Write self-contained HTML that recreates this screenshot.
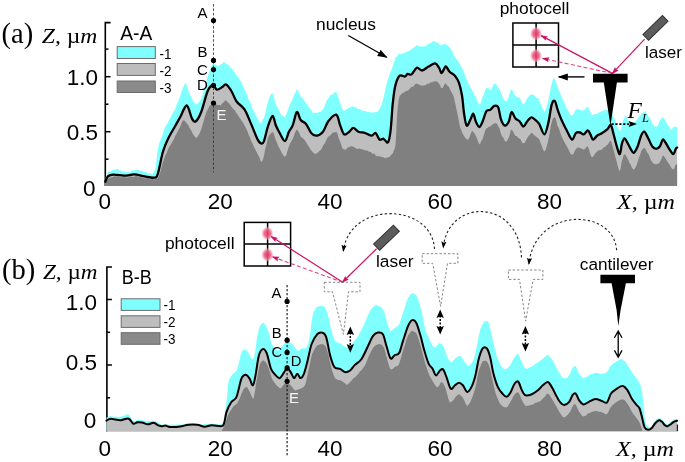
<!DOCTYPE html>
<html lang="en"><head><meta charset="utf-8"><title>AFM cell profiles</title>
<style>html,body{margin:0;padding:0;background:#fff}svg{display:block;will-change:transform}.s{font-family:"Liberation Sans",sans-serif;fill:#000}.t{font-family:"Liberation Serif",serif;fill:#000}.i{font-style:italic}</style></head><body>
<svg width="685" height="462" viewBox="0 0 685 462">
<defs><marker id="ak" markerWidth="10" markerHeight="8" refX="9" refY="4" orient="auto" markerUnits="userSpaceOnUse"><path d="M0,0.5 L10,4 L0,7.5 Z" fill="#000"/></marker><marker id="ar" markerWidth="8" markerHeight="6" refX="6.5" refY="3" orient="auto" markerUnits="userSpaceOnUse"><path d="M0,0.5 L7.5,3 L0,5.5 L1.2,3 Z" fill="#cc1166"/></marker><marker id="as" markerWidth="7" markerHeight="6" refX="6" refY="3" orient="auto" markerUnits="userSpaceOnUse"><path d="M0,0.4 L7,3 L0,5.6 L1.3,3 Z" fill="#000"/></marker><marker id="as2" markerWidth="7" markerHeight="7" refX="1" refY="3.5" orient="auto" markerUnits="userSpaceOnUse"><path d="M7,0.5 L0,3.5 L7,6.5 Z" fill="#000"/></marker><radialGradient id="rb"><stop offset="0" stop-color="#e63a68" stop-opacity="0.95"/><stop offset="0.5" stop-color="#ec5a80" stop-opacity="0.9"/><stop offset="0.8" stop-color="#f39ab2" stop-opacity="0.6"/><stop offset="1" stop-color="#fbd0dc" stop-opacity="0"/></radialGradient></defs>
<rect width="685" height="462" fill="#fff"/>
<path d="M110.6,22.6 H105.3 V186" fill="none" stroke="#000" stroke-width="1.6"/>
<path d="M105.3,49.1 h3.2" stroke="#000" stroke-width="1.5"/>
<path d="M105.3,76.7 h5.2" stroke="#000" stroke-width="1.5"/>
<path d="M105.3,104.2 h3.2" stroke="#000" stroke-width="1.5"/>
<path d="M105.3,131.7 h5.2" stroke="#000" stroke-width="1.5"/>
<path d="M105.3,159.2 h3.2" stroke="#000" stroke-width="1.5"/>
<path d="M112,267 H106.9 V431.5" fill="none" stroke="#000" stroke-width="1.6"/>
<path d="M106.9,299.5 h5" stroke="#000" stroke-width="1.5"/>
<path d="M106.9,332.3 h3.2" stroke="#000" stroke-width="1.5"/>
<path d="M106.9,365 h5" stroke="#000" stroke-width="1.5"/>
<path d="M106.9,397.8 h3.2" stroke="#000" stroke-width="1.5"/>
<path d="M105.3,179.0 L105.8,177.3 L106.7,174.7 L107.9,172.6 L109.0,171.3 L110.0,171.7 L111.5,170.9 L113.0,169.7 L114.4,169.8 L115.8,169.4 L117.4,168.8 L119.0,170.3 L120.3,170.5 L121.6,170.5 L122.9,171.9 L124.0,171.2 L125.2,171.5 L126.3,171.9 L127.4,172.3 L128.6,171.8 L129.7,172.2 L131.0,171.4 L132.2,170.1 L133.5,170.7 L134.6,170.6 L135.7,169.7 L136.8,170.3 L138.4,169.4 L139.9,171.1 L141.1,170.5 L142.2,170.8 L143.3,171.8 L144.7,171.9 L146.0,172.2 L147.9,173.4 L149.7,173.2 L151.2,173.8 L152.6,174.2 L154.0,171.8 L155.2,169.3 L156.0,164.6 L156.9,156.0 L157.8,148.9 L159.3,143.0 L160.3,140.3 L161.3,138.0 L163.0,133.5 L164.6,128.3 L166.5,124.8 L168.3,122.0 L169.3,119.7 L170.4,117.5 L171.6,115.3 L172.8,113.0 L173.9,110.9 L174.9,110.0 L176.6,104.8 L178.5,100.5 L180.1,96.5 L181.8,91.3 L183.7,86.0 L185.4,82.8 L187.1,86.3 L188.9,92.5 L190.6,95.7 L192.3,99.7 L194.2,102.3 L195.9,104.7 L197.6,103.5 L198.6,102.6 L199.6,101.4 L201.2,98.8 L202.5,95.3 L203.9,89.3 L205.1,86.2 L206.3,81.4 L207.8,76.0 L209.0,73.2 L210.2,70.0 L211.7,65.4 L213.0,63.6 L214.5,64.2 L216.3,65.0 L218.0,66.5 L219.8,65.3 L220.8,64.2 L221.9,63.7 L223.7,61.9 L225.5,63.0 L226.4,64.3 L227.4,64.1 L229.0,65.6 L230.4,68.0 L231.8,68.6 L233.0,70.2 L234.1,72.1 L235.3,72.9 L236.6,75.8 L237.6,76.9 L238.6,77.7 L239.8,80.4 L241.1,81.6 L242.1,83.6 L243.2,86.5 L244.9,89.4 L246.8,94.9 L248.5,99.3 L249.5,101.6 L250.5,102.8 L251.8,106.8 L253.0,109.6 L254.0,111.2 L255.0,113.7 L256.8,117.1 L258.7,120.7 L260.3,123.3 L261.5,122.5 L262.8,119.6 L264.0,117.9 L265.6,111.8 L266.6,107.2 L267.6,103.1 L269.2,98.0 L270.4,95.0 L271.6,93.6 L272.6,93.0 L273.6,96.3 L274.7,100.6 L275.8,103.7 L277.0,106.7 L278.4,109.2 L279.7,111.7 L281.3,115.0 L282.4,115.3 L283.4,116.2 L285.0,116.9 L286.3,114.0 L287.7,110.4 L288.9,107.0 L290.1,103.8 L291.6,101.2 L292.8,98.5 L294.1,94.8 L295.5,92.4 L296.8,89.3 L298.0,90.3 L299.4,93.9 L300.7,96.4 L302.3,97.9 L303.3,99.1 L304.3,100.5 L306.0,103.2 L307.7,105.5 L309.5,108.1 L311.2,110.1 L312.8,112.9 L314.7,112.8 L316.5,112.8 L317.5,113.3 L318.5,112.0 L319.8,112.0 L321.0,111.4 L322.0,109.7 L323.0,109.7 L324.7,105.7 L326.5,101.1 L328.3,98.2 L329.5,97.1 L330.8,94.3 L332.3,94.7 L333.8,93.3 L335.0,91.9 L336.2,92.0 L337.7,94.7 L339.0,99.3 L340.1,102.4 L341.3,106.3 L342.7,109.4 L344.1,110.7 L345.1,110.3 L346.1,109.5 L347.4,109.0 L348.6,107.7 L349.6,107.7 L350.6,107.2 L352.0,106.0 L353.3,106.9 L354.6,107.0 L356.1,107.5 L357.9,108.9 L359.8,108.9 L361.0,109.9 L362.2,110.3 L363.7,111.1 L365.3,111.0 L366.5,111.5 L367.7,111.7 L369.5,112.0 L371.4,112.7 L373.0,112.5 L374.7,112.3 L376.6,112.0 L378.2,111.2 L379.5,108.9 L381.0,105.7 L382.2,102.4 L383.4,98.2 L384.9,91.6 L386.1,86.2 L387.4,80.9 L388.9,76.8 L390.0,73.1 L390.6,71.6 L391.2,70.8 L391.8,69.0 L392.9,65.7 L394.5,60.8 L395.8,57.0 L397.0,56.4 L398.3,54.2 L399.7,54.1 L400.7,54.1 L401.7,53.9 L402.9,53.2 L404.2,53.3 L405.3,52.5 L406.3,51.8 L408.0,51.6 L409.9,50.3 L411.5,49.6 L413.1,47.9 L415.0,46.5 L416.8,45.3 L417.8,45.5 L418.8,46.0 L420.0,46.2 L421.2,47.1 L422.2,46.1 L423.3,46.5 L424.4,46.6 L425.4,46.2 L426.7,45.6 L427.9,44.6 L428.9,42.7 L429.9,43.7 L431.7,42.3 L433.6,41.0 L435.2,42.1 L436.9,42.3 L438.7,43.8 L440.4,45.4 L442.1,44.5 L444.0,44.3 L445.7,44.0 L447.4,45.2 L449.2,47.1 L450.9,48.9 L452.6,51.8 L454.5,56.3 L456.2,58.9 L457.9,60.4 L459.7,63.7 L461.4,66.9 L463.1,70.1 L465.0,75.1 L466.7,80.1 L468.4,83.2 L469.4,85.0 L470.4,87.2 L472.0,89.7 L473.3,93.0 L474.7,95.2 L475.9,97.2 L477.0,100.5 L478.2,103.0 L479.3,104.4 L480.3,104.0 L481.4,100.2 L482.5,97.3 L483.7,94.8 L485.1,90.2 L486.4,88.1 L487.6,88.0 L489.1,88.7 L490.3,90.3 L491.5,88.9 L493.0,85.6 L494.3,83.8 L495.9,84.3 L496.9,85.0 L497.9,86.9 L499.5,89.5 L500.8,92.1 L502.3,96.3 L503.5,99.1 L504.7,100.5 L506.2,101.6 L507.4,100.3 L508.7,97.3 L510.1,91.7 L511.4,88.9 L512.7,90.8 L514.2,94.3 L515.5,96.2 L516.8,96.8 L518.2,97.7 L519.5,97.6 L520.7,99.2 L522.2,103.4 L523.4,104.6 L524.6,103.5 L526.1,100.6 L527.3,98.3 L528.6,96.6 L530.0,95.2 L531.3,93.9 L532.5,94.7 L534.0,94.9 L535.2,96.5 L536.4,98.0 L537.9,97.9 L539.2,100.1 L540.8,104.4 L541.8,106.2 L542.8,109.2 L544.4,112.1 L545.8,108.9 L547.2,104.5 L548.4,99.5 L549.5,94.2 L550.8,87.3 L551.8,83.5 L552.7,80.1 L553.6,78.0 L554.4,78.5 L555.3,79.9 L556.4,83.3 L557.5,86.7 L558.7,89.7 L560.1,92.8 L561.5,96.6 L563.1,100.3 L565.0,104.4 L566.7,108.6 L568.4,110.8 L569.4,112.6 L570.4,115.0 L572.0,115.4 L573.3,114.3 L574.7,111.7 L575.9,109.5 L577.2,109.4 L578.6,108.9 L579.9,109.7 L581.1,110.4 L582.6,110.2 L583.8,110.6 L585.1,109.2 L586.5,107.2 L587.8,106.7 L589.0,108.7 L590.4,112.4 L591.7,115.2 L593.3,115.0 L594.3,113.7 L595.3,114.2 L597.0,114.0 L598.7,112.5 L600.5,112.0 L602.2,111.1 L603.9,110.5 L604.9,110.2 L605.9,109.5 L607.5,109.8 L608.8,110.7 L610.2,110.3 L611.4,112.3 L612.7,115.0 L614.1,118.1 L615.4,120.7 L616.8,125.5 L618.4,129.2 L619.8,131.6 L621.0,129.5 L622.2,123.8 L623.2,119.9 L624.1,118.4 L625.1,115.8 L625.9,115.9 L626.7,117.1 L627.5,119.0 L628.5,121.0 L630.0,122.2 L631.0,122.2 L632.0,123.4 L633.7,122.0 L635.0,121.8 L636.5,120.5 L637.7,118.7 L638.9,116.8 L640.4,115.4 L641.6,113.1 L642.9,112.9 L644.3,111.8 L645.6,111.2 L646.8,113.7 L648.3,116.0 L649.5,117.2 L650.8,119.8 L652.2,123.4 L653.5,124.8 L654.8,126.8 L656.2,126.2 L657.4,126.8 L658.3,124.6 L659.2,121.5 L660.0,120.4 L660.8,119.3 L661.8,118.0 L662.7,117.2 L663.9,118.1 L665.3,120.2 L666.6,122.7 L667.8,124.5 L669.3,127.5 L670.5,129.5 L671.8,129.4 L673.3,127.0 L674.5,127.0 L675.5,127.1 L676.5,126.3 L677.1,126.5 L677.1,184.9 L105.3,184.9 Z" fill="#80ffff"/>
<path d="M105.3,181.7 L105.9,180.2 L106.8,178.0 L107.9,176.4 L109.2,175.5 L110.9,174.9 L112.0,174.8 L113.1,174.6 L114.4,174.7 L115.7,174.7 L117.0,174.8 L118.3,174.9 L119.6,175.1 L120.9,175.2 L122.2,175.3 L123.5,175.4 L124.9,175.5 L126.3,175.6 L127.7,175.4 L129.1,175.2 L130.4,174.9 L131.7,174.6 L132.9,174.4 L134.2,174.3 L135.8,174.5 L137.4,174.8 L138.7,175.1 L140.0,175.4 L141.4,175.7 L142.5,175.9 L143.6,176.2 L144.7,176.4 L146.3,176.7 L147.9,177.0 L149.0,177.2 L150.2,177.4 L151.3,177.6 L152.6,177.7 L153.9,177.7 L155.4,177.3 L156.6,176.3 L157.8,173.8 L159.4,167.5 L161.3,158.6 L163.0,151.5 L164.6,146.7 L166.5,142.2 L168.3,138.3 L169.3,136.3 L170.4,134.4 L171.6,132.2 L172.8,130.1 L173.9,128.3 L174.9,126.5 L176.6,123.5 L178.4,120.3 L180.1,117.3 L181.1,115.1 L182.2,113.0 L183.4,110.4 L184.6,107.9 L185.7,106.7 L186.7,105.5 L188.5,108.5 L190.4,114.3 L192.0,118.6 L193.3,120.4 L194.6,121.4 L195.9,121.2 L197.5,119.3 L199.4,116.0 L201.2,112.0 L202.2,108.8 L203.2,105.6 L204.4,101.3 L205.7,97.1 L206.7,94.1 L207.7,91.0 L209.5,87.9 L211.4,86.0 L213.0,85.2 L214.3,86.2 L215.6,88.4 L216.9,89.7 L218.5,89.3 L219.6,88.7 L220.6,88.1 L222.2,87.1 L223.5,86.0 L224.8,84.8 L226.1,84.5 L227.7,85.9 L228.7,87.2 L229.7,88.4 L231.4,91.0 L233.0,94.2 L234.8,98.2 L236.6,101.5 L237.8,102.7 L239.0,104.0 L240.5,105.3 L242.0,106.6 L243.2,108.0 L244.5,109.4 L245.6,111.5 L246.7,113.6 L247.9,116.3 L249.0,119.0 L250.1,121.5 L251.1,123.9 L252.2,126.5 L253.3,129.2 L254.5,132.2 L255.8,135.3 L257.7,139.6 L259.1,141.8 L260.5,143.1 L261.6,143.6 L262.4,143.5 L263.2,142.7 L264.0,141.0 L265.1,137.0 L266.6,131.2 L267.9,126.5 L269.4,122.3 L271.2,118.1 L272.6,116.0 L273.7,117.8 L274.8,121.8 L275.8,125.2 L277.0,127.8 L278.4,130.5 L279.7,133.0 L281.3,136.0 L282.4,137.8 L283.4,139.5 L285.0,141.0 L286.3,139.0 L287.7,135.0 L288.9,131.7 L290.1,129.7 L291.6,127.6 L292.8,125.2 L294.1,120.8 L295.5,115.1 L296.8,112.0 L298.0,113.4 L299.4,117.1 L300.7,120.0 L302.3,121.3 L303.3,121.9 L304.3,122.5 L306.0,123.9 L307.7,126.7 L309.5,130.3 L311.2,133.0 L312.8,134.4 L314.7,135.4 L316.5,135.7 L317.5,135.4 L318.5,135.0 L319.8,134.3 L321.0,133.6 L322.0,132.6 L323.0,131.7 L324.7,128.6 L326.5,124.5 L328.3,121.2 L329.5,119.8 L330.8,118.4 L332.3,117.0 L333.8,115.6 L335.0,115.2 L336.2,114.7 L337.7,117.1 L339.0,121.4 L340.1,125.2 L341.3,128.6 L342.8,132.2 L344.1,134.4 L345.7,134.3 L346.7,133.6 L347.7,133.0 L349.3,131.7 L350.6,130.3 L352.0,128.6 L353.3,127.8 L354.8,128.7 L356.7,130.4 L358.5,131.7 L359.5,132.0 L360.5,132.2 L361.7,132.4 L363.0,132.6 L364.0,132.8 L365.1,133.0 L366.2,133.5 L367.3,133.9 L368.5,134.5 L369.8,135.1 L371.7,135.7 L373.1,134.9 L374.4,133.5 L375.6,133.0 L376.8,134.8 L378.3,137.7 L379.5,139.6 L380.8,139.7 L382.2,139.0 L383.5,138.8 L385.0,140.1 L386.7,142.0 L388.0,142.3 L389.0,139.8 L389.9,135.5 L390.6,130.4 L391.3,122.7 L392.0,112.5 L392.7,104.2 L393.4,97.6 L394.4,90.9 L395.3,85.8 L396.6,81.8 L398.2,78.0 L399.7,75.7 L401.4,75.4 L402.4,75.8 L403.4,76.1 L405.0,76.5 L405.9,75.8 L406.8,74.6 L407.6,73.9 L408.7,74.1 L410.1,74.6 L411.5,74.4 L413.1,72.4 L414.1,71.0 L415.1,69.6 L416.8,67.8 L418.4,68.3 L420.3,69.8 L422.0,70.5 L423.0,70.0 L424.0,69.6 L425.2,68.8 L426.5,67.9 L427.5,67.2 L428.6,66.5 L429.7,65.9 L430.8,65.2 L432.0,64.6 L433.3,63.9 L435.2,63.4 L436.6,64.3 L438.0,66.1 L439.1,67.8 L440.0,69.8 L440.8,72.1 L441.7,73.1 L442.9,71.4 L444.4,68.2 L445.7,66.5 L446.9,67.5 L448.3,69.8 L449.6,71.8 L451.2,73.0 L452.2,73.7 L453.3,74.3 L454.9,75.7 L456.2,77.4 L457.6,79.7 L458.8,82.3 L459.9,85.9 L461.1,90.7 L462.0,95.4 L462.7,101.1 L463.4,108.2 L464.1,113.8 L464.9,118.5 L465.8,123.1 L466.7,125.6 L467.9,124.6 L469.4,121.6 L470.6,119.1 L471.5,116.9 L472.5,114.7 L473.3,113.8 L474.1,115.6 L475.0,118.9 L475.9,121.7 L476.9,123.9 L478.2,126.0 L479.3,127.0 L480.3,126.1 L481.4,124.0 L482.5,121.7 L483.7,118.4 L485.1,114.2 L486.4,111.2 L487.6,110.3 L489.1,110.2 L490.3,109.9 L491.6,108.6 L493.0,106.9 L494.3,105.9 L495.6,105.7 L497.0,106.0 L498.2,107.2 L499.1,110.5 L500.0,115.3 L500.9,119.1 L502.1,121.8 L503.5,124.3 L504.8,125.6 L506.1,125.0 L507.7,123.2 L508.9,121.2 L509.8,118.1 L510.7,114.1 L511.6,112.0 L512.8,113.3 L514.2,116.3 L515.5,118.6 L516.8,119.6 L518.2,120.3 L519.5,121.2 L520.7,123.0 L522.2,125.4 L523.4,126.5 L524.6,125.4 L526.1,123.1 L527.3,121.2 L528.6,119.7 L530.0,118.1 L531.3,117.3 L532.5,117.7 L534.0,118.8 L535.2,119.9 L536.4,120.9 L537.9,122.2 L539.2,123.9 L540.8,127.5 L541.8,129.9 L542.8,132.2 L544.4,134.4 L545.8,132.1 L547.2,127.3 L548.4,122.5 L549.5,116.6 L550.8,109.3 L551.8,104.2 L552.8,101.9 L554.0,100.9 L554.9,101.0 L555.7,102.9 L556.6,106.3 L557.5,109.4 L558.7,112.6 L560.1,116.5 L561.5,119.9 L563.1,123.3 L565.0,127.1 L566.7,130.4 L568.4,133.9 L569.4,135.8 L570.4,137.6 L572.0,139.6 L573.3,138.3 L574.7,135.2 L575.9,133.0 L577.2,132.4 L578.6,132.3 L579.9,132.5 L581.1,133.1 L582.6,134.1 L583.8,134.4 L585.1,133.2 L586.6,131.4 L587.8,130.4 L588.7,131.2 L589.6,132.8 L590.4,134.4 L591.2,136.3 L592.1,138.4 L593.0,139.6 L594.2,138.9 L595.6,137.1 L597.0,135.7 L598.6,134.8 L600.5,133.9 L602.2,133.0 L603.9,131.8 L604.9,131.1 L605.9,130.4 L607.5,129.1 L608.7,127.4 L609.9,125.6 L610.9,125.2 L611.9,127.7 L613.0,131.9 L614.0,135.7 L614.9,139.1 L615.8,143.0 L616.7,146.2 L617.7,149.4 L618.9,152.8 L619.8,154.1 L620.5,151.7 L621.2,147.2 L621.9,143.6 L622.7,141.3 L623.7,139.3 L624.5,138.3 L625.3,138.9 L626.3,140.6 L627.2,142.3 L628.3,144.3 L629.5,146.8 L630.6,148.8 L631.6,150.5 L632.7,152.2 L633.7,152.8 L634.9,151.4 L636.4,148.8 L637.7,146.2 L638.8,142.9 L640.0,138.8 L641.1,135.7 L642.1,133.7 L643.2,132.2 L644.3,131.7 L645.5,133.1 L646.9,135.8 L648.2,138.3 L649.4,140.9 L650.9,144.0 L652.1,146.2 L653.4,147.5 L654.8,148.4 L656.1,148.8 L657.4,148.4 L658.8,147.4 L660.0,146.2 L660.9,144.1 L661.9,141.3 L662.7,139.6 L663.5,139.8 L664.4,140.9 L665.3,142.3 L666.5,144.2 L667.9,146.7 L669.2,148.8 L670.5,150.9 L672.0,153.1 L673.2,154.1 L674.1,152.9 L675.1,150.6 L675.8,148.8 L676.3,148.1 L676.8,147.7 L677.1,147.5 L677.1,185.9 L105.3,185.9 Z" fill="#bebebe"/>
<path d="M105.3,183.0 L106.2,181.6 L107.7,178.9 L109.2,178.3 L111.0,177.2 L112.2,177.0 L113.4,176.9 L114.6,176.1 L115.8,176.6 L117.4,176.2 L119.0,176.5 L120.3,177.1 L121.6,177.5 L122.9,176.9 L124.0,176.8 L125.2,177.4 L126.3,177.6 L127.8,177.4 L129.3,177.1 L130.4,176.4 L131.4,176.4 L132.5,177.0 L134.0,176.7 L135.5,176.0 L136.6,176.3 L137.7,176.0 L138.8,177.5 L140.1,176.7 L141.3,177.6 L142.6,177.7 L143.7,178.3 L144.9,178.3 L146.0,178.5 L147.2,178.1 L148.4,178.3 L149.6,179.2 L150.9,179.4 L152.2,178.5 L153.6,179.6 L155.0,178.8 L156.5,178.7 L158.0,178.3 L159.0,175.4 L159.9,173.2 L160.8,170.3 L161.9,165.8 L163.0,161.8 L164.5,157.8 L165.5,155.1 L166.5,153.2 L168.3,148.7 L169.3,146.7 L170.4,145.2 L171.6,143.0 L172.8,140.9 L173.9,139.2 L174.9,136.6 L176.7,133.4 L178.6,129.8 L180.1,127.1 L181.4,123.4 L182.7,120.6 L184.1,120.3 L185.1,121.3 L186.1,122.5 L187.3,124.0 L188.5,125.5 L189.6,128.0 L190.6,129.3 L192.4,133.0 L194.2,136.1 L195.9,137.9 L197.6,136.8 L199.5,133.6 L201.2,129.4 L202.8,123.9 L204.7,117.3 L206.4,112.2 L207.4,110.1 L208.4,108.3 L209.6,105.8 L210.9,104.9 L211.9,104.1 L213.0,102.8 L214.1,103.0 L215.1,103.2 L216.3,104.4 L217.5,104.9 L218.6,105.0 L219.6,104.9 L220.7,105.4 L221.7,103.7 L222.9,102.8 L224.1,101.9 L225.1,100.1 L226.1,100.7 L227.9,102.3 L229.8,104.3 L231.4,106.4 L233.0,108.8 L234.8,110.2 L236.6,113.3 L237.8,114.7 L239.0,117.0 L240.4,118.8 L241.9,121.2 L243.2,122.9 L244.5,125.5 L245.8,127.8 L247.1,130.5 L248.6,134.6 L250.0,137.6 L251.2,141.2 L252.4,143.2 L254.3,147.4 L256.2,151.1 L257.7,154.5 L259.1,156.6 L260.5,160.6 L261.6,162.0 L262.4,160.7 L263.2,158.8 L264.0,155.7 L265.1,149.5 L266.6,144.1 L267.9,138.6 L269.4,135.1 L271.2,133.0 L272.6,132.0 L273.7,133.5 L274.8,136.9 L275.8,140.1 L277.0,142.8 L278.4,146.5 L279.7,148.7 L281.3,151.7 L282.4,154.1 L283.4,155.2 L285.0,157.0 L286.3,155.1 L287.7,150.1 L288.9,146.5 L290.1,143.5 L291.6,140.8 L292.8,138.7 L294.1,135.2 L295.5,131.4 L296.8,129.6 L298.0,130.7 L299.4,133.3 L300.7,136.4 L302.3,138.1 L303.3,138.5 L304.3,139.7 L306.0,142.1 L307.7,144.9 L309.5,147.8 L311.2,150.3 L312.8,152.2 L314.7,153.8 L316.5,153.8 L317.5,152.8 L318.5,152.3 L319.8,150.6 L321.0,149.7 L322.0,147.9 L323.0,145.8 L324.7,143.4 L326.5,139.5 L328.3,136.4 L329.5,136.3 L330.8,134.8 L332.3,133.1 L333.8,132.3 L335.0,132.5 L336.2,131.4 L337.7,134.2 L339.0,139.0 L340.1,141.6 L341.3,145.2 L342.7,148.7 L344.1,149.5 L346.0,149.7 L347.2,147.7 L348.4,147.5 L349.5,146.9 L350.6,146.3 L351.8,146.3 L353.1,146.7 L354.5,147.3 L356.0,148.4 L357.3,148.9 L358.5,148.8 L359.6,148.6 L360.7,149.2 L361.9,149.1 L363.0,149.5 L364.1,150.4 L365.1,149.8 L366.1,150.9 L367.2,150.2 L368.3,151.3 L369.5,152.0 L370.6,151.7 L371.7,153.1 L372.9,154.1 L374.1,153.3 L375.5,155.2 L376.9,156.3 L378.2,156.3 L379.5,156.3 L380.9,156.7 L382.3,157.0 L383.9,157.6 L385.5,158.6 L386.7,157.3 L388.0,157.7 L389.8,156.6 L391.4,154.8 L392.7,153.5 L393.7,150.8 L394.6,148.7 L395.3,146.6 L395.8,140.9 L396.2,132.4 L396.6,124.8 L397.0,117.7 L397.4,111.2 L397.9,105.7 L398.6,100.3 L399.4,96.7 L400.5,94.9 L402.2,93.2 L403.3,92.9 L404.4,91.9 L406.3,91.1 L408.0,90.5 L409.9,88.5 L411.5,86.8 L413.2,86.7 L415.1,84.2 L416.8,83.4 L418.4,84.3 L420.3,85.3 L422.0,85.6 L423.0,85.7 L424.0,85.2 L425.2,85.2 L426.5,84.5 L427.5,83.5 L428.6,83.8 L429.7,83.3 L430.8,82.0 L432.0,82.4 L433.3,81.4 L435.2,81.4 L436.6,81.0 L438.0,82.5 L439.1,83.8 L440.0,85.0 L440.8,87.6 L441.7,88.2 L442.9,87.8 L444.4,84.6 L445.7,82.9 L446.9,85.3 L448.4,86.2 L449.6,88.4 L450.9,91.0 L452.3,93.4 L453.6,96.2 L454.9,101.7 L456.3,108.6 L457.5,113.9 L458.4,118.6 L459.2,122.9 L460.1,127.5 L461.3,129.9 L462.8,133.9 L464.1,136.0 L465.3,137.9 L466.8,139.3 L468.0,139.8 L469.3,137.5 L470.7,133.7 L472.0,130.7 L473.3,131.9 L474.7,133.8 L475.9,136.2 L477.0,138.6 L478.2,141.7 L479.3,144.5 L480.3,143.6 L481.4,140.7 L482.5,139.2 L483.7,135.5 L485.1,130.7 L486.4,128.3 L487.6,127.9 L489.1,126.6 L490.3,126.8 L491.6,125.0 L493.0,124.4 L494.3,123.0 L495.5,123.2 L497.0,123.7 L498.2,126.3 L499.5,128.3 L500.9,133.5 L502.2,136.5 L503.5,137.8 L504.9,140.9 L506.1,141.8 L507.1,140.8 L508.0,138.9 L508.9,137.4 L509.7,134.7 L510.7,130.6 L511.6,129.5 L512.8,130.9 L514.2,133.8 L515.5,136.0 L516.8,136.0 L518.2,138.0 L519.5,138.5 L520.7,139.5 L522.2,143.1 L523.4,143.0 L524.6,142.9 L526.1,139.9 L527.3,138.0 L528.6,135.9 L530.0,134.5 L531.3,133.0 L532.5,133.2 L534.0,135.2 L535.2,135.7 L536.4,137.1 L537.9,137.9 L539.2,139.2 L540.8,143.5 L541.8,145.9 L542.8,149.2 L544.4,151.5 L545.8,149.4 L547.2,144.8 L548.4,139.4 L549.5,134.0 L550.8,126.0 L551.8,121.9 L552.8,118.8 L554.0,117.5 L554.9,117.4 L555.7,118.5 L556.6,122.1 L557.5,125.8 L558.7,128.1 L560.1,132.0 L561.5,136.2 L563.1,139.4 L565.0,143.2 L566.7,145.9 L568.4,149.3 L569.4,151.5 L570.4,153.4 L572.0,154.7 L573.3,154.3 L574.7,150.9 L575.9,149.1 L577.2,147.7 L578.6,147.6 L579.9,147.8 L581.1,148.4 L582.6,149.0 L583.8,149.8 L585.1,148.8 L586.5,146.7 L587.8,146.3 L589.0,149.5 L590.4,154.2 L591.7,157.3 L593.3,156.4 L594.3,154.7 L595.3,153.2 L597.0,151.6 L598.7,150.3 L600.5,149.9 L602.2,149.2 L603.9,146.9 L604.9,147.6 L605.9,145.8 L607.5,144.8 L608.7,143.0 L609.9,141.0 L610.9,141.1 L611.9,144.1 L613.0,147.8 L614.0,151.4 L614.9,155.3 L615.8,158.6 L616.7,161.4 L617.7,166.0 L618.9,169.7 L619.8,171.2 L620.5,169.3 L621.2,164.6 L621.9,161.0 L622.7,158.5 L623.7,155.0 L624.5,154.3 L625.3,154.7 L626.3,156.1 L627.2,158.3 L628.3,159.9 L629.5,162.9 L630.6,164.3 L631.6,166.9 L632.7,168.8 L633.7,169.7 L634.9,168.6 L636.4,165.4 L637.7,162.0 L638.8,158.2 L640.0,155.0 L641.1,151.6 L642.1,149.7 L643.2,148.4 L644.3,147.8 L645.5,149.1 L646.9,151.9 L648.2,153.8 L649.4,156.0 L650.9,160.2 L652.1,161.7 L653.4,163.4 L654.8,164.1 L656.1,164.4 L657.4,163.8 L658.8,163.5 L660.0,161.8 L660.9,160.3 L661.9,157.7 L662.7,155.5 L663.5,155.7 L664.4,156.7 L665.3,158.0 L666.5,159.9 L667.9,162.4 L669.2,163.9 L670.5,166.6 L672.0,168.8 L673.2,169.4 L674.1,169.0 L675.1,166.0 L675.8,164.5 L676.3,164.1 L676.8,165.1 L677.1,165.0 L677.1,185.9 L105.3,185.9 Z" fill="#808080"/>
<path d="M105.3,181.7 C105.7,180.8 106.6,177.6 107.9,176.4 C109.2,175.2 110.0,174.7 113.1,174.6 C116.2,174.5 122.8,175.6 126.3,175.6 C129.8,175.6 131.1,174.2 134.2,174.3 C137.3,174.4 141.4,175.8 144.7,176.4 C148.0,177.0 151.7,178.1 153.9,177.7 C156.1,177.3 156.3,178.2 157.8,173.8 C159.3,169.4 161.2,157.4 163.0,151.5 C164.8,145.6 166.3,142.5 168.3,138.3 C170.3,134.1 172.9,130.0 174.9,126.5 C176.9,123.0 178.1,120.8 180.1,117.3 C182.1,113.8 184.7,105.3 186.7,105.5 C188.7,105.7 190.5,116.0 192.0,118.6 C193.5,121.2 194.4,122.3 195.9,121.2 C197.4,120.1 199.2,117.0 201.2,112.0 C203.2,107.0 205.7,95.5 207.7,91.0 C209.7,86.5 211.5,85.4 213.0,85.2 C214.5,85.0 215.4,89.4 216.9,89.7 C218.4,90.0 220.7,88.0 222.2,87.1 C223.7,86.2 224.6,83.8 226.1,84.5 C227.6,85.2 229.7,88.2 231.4,91.0 C233.2,93.8 234.4,98.4 236.6,101.5 C238.8,104.6 242.1,105.7 244.5,109.4 C246.9,113.1 248.9,118.9 251.1,123.9 C253.3,128.9 255.9,136.3 257.7,139.6 C259.4,142.9 260.6,143.4 261.6,143.6 C262.7,143.8 262.9,143.8 264.0,141.0 C265.1,138.2 266.5,130.7 267.9,126.5 C269.3,122.3 271.3,116.2 272.6,116.0 C273.9,115.8 274.6,122.4 275.8,125.2 C277.0,128.0 278.2,130.4 279.7,133.0 C281.2,135.6 283.5,141.2 285.0,141.0 C286.5,140.8 287.6,134.3 288.9,131.7 C290.2,129.1 291.5,128.5 292.8,125.2 C294.1,121.9 295.5,112.9 296.8,112.0 C298.1,111.1 299.2,118.0 300.7,120.0 C302.2,122.0 304.2,121.7 306.0,123.9 C307.8,126.1 309.4,131.0 311.2,133.0 C312.9,135.0 314.5,135.9 316.5,135.7 C318.5,135.5 321.0,134.1 323.0,131.7 C325.0,129.3 326.1,124.0 328.3,121.2 C330.5,118.4 334.2,114.0 336.2,114.7 C338.2,115.4 338.8,121.9 340.1,125.2 C341.4,128.5 342.6,133.3 344.1,134.4 C345.6,135.5 347.8,132.8 349.3,131.7 C350.8,130.6 351.8,127.8 353.3,127.8 C354.8,127.8 356.5,130.8 358.5,131.7 C360.5,132.6 362.9,132.3 365.1,133.0 C367.3,133.7 369.9,135.7 371.7,135.7 C373.4,135.7 374.3,132.3 375.6,133.0 C376.9,133.7 378.2,138.6 379.5,139.6 C380.8,140.6 382.1,138.4 383.5,138.8 C384.9,139.2 386.8,143.7 388.0,142.3 C389.2,140.9 389.8,136.8 390.6,130.4 C391.4,124.1 391.9,111.6 392.7,104.2 C393.5,96.8 394.1,90.5 395.3,85.8 C396.5,81.0 398.1,77.2 399.7,75.7 C401.3,74.2 403.7,76.8 405.0,76.5 C406.3,76.2 406.5,74.2 407.6,73.9 C408.7,73.6 410.0,75.4 411.5,74.4 C413.0,73.4 415.1,68.5 416.8,67.8 C418.6,67.1 420.0,70.7 422.0,70.5 C424.0,70.3 426.4,67.7 428.6,66.5 C430.8,65.3 433.4,63.2 435.2,63.4 C436.9,63.6 438.0,66.2 439.1,67.8 C440.2,69.4 440.6,73.3 441.7,73.1 C442.8,72.9 444.4,66.7 445.7,66.5 C447.0,66.3 448.1,70.3 449.6,71.8 C451.1,73.3 453.4,74.0 454.9,75.7 C456.4,77.5 457.6,79.0 458.8,82.3 C460.0,85.6 461.1,90.2 462.0,95.4 C462.9,100.7 463.3,108.8 464.1,113.8 C464.9,118.8 465.6,124.7 466.7,125.6 C467.8,126.5 469.5,121.1 470.6,119.1 C471.7,117.1 472.4,113.4 473.3,113.8 C474.2,114.2 474.9,119.5 475.9,121.7 C476.9,123.9 478.2,127.0 479.3,127.0 C480.4,127.0 481.3,124.3 482.5,121.7 C483.7,119.1 485.1,113.2 486.4,111.2 C487.7,109.2 489.0,110.8 490.3,109.9 C491.6,109.0 493.0,106.4 494.3,105.9 C495.6,105.5 497.1,105.0 498.2,107.2 C499.3,109.4 499.8,116.0 500.9,119.1 C502.0,122.2 503.5,125.2 504.8,125.6 C506.1,125.9 507.8,123.5 508.9,121.2 C510.0,118.9 510.5,112.4 511.6,112.0 C512.7,111.6 514.2,117.1 515.5,118.6 C516.8,120.1 518.2,119.9 519.5,121.2 C520.8,122.5 522.1,126.5 523.4,126.5 C524.7,126.5 526.0,122.7 527.3,121.2 C528.6,119.7 530.0,117.5 531.3,117.3 C532.6,117.1 533.9,118.8 535.2,119.9 C536.5,121.0 537.7,121.5 539.2,123.9 C540.7,126.3 542.9,134.6 544.4,134.4 C545.9,134.2 547.2,127.5 548.4,122.5 C549.6,117.5 550.7,107.8 551.8,104.2 C552.9,100.6 553.9,100.1 554.9,101.0 C555.9,101.9 556.4,106.2 557.5,109.4 C558.6,112.6 560.0,116.4 561.5,119.9 C563.0,123.4 565.0,127.1 566.7,130.4 C568.5,133.7 570.5,139.2 572.0,139.6 C573.5,140.0 574.6,134.2 575.9,133.0 C577.2,131.8 578.6,132.3 579.9,132.5 C581.2,132.7 582.5,134.8 583.8,134.4 C585.1,134.1 586.7,130.4 587.8,130.4 C588.9,130.4 589.5,132.9 590.4,134.4 C591.3,135.9 591.9,139.4 593.0,139.6 C594.1,139.8 595.5,136.8 597.0,135.7 C598.5,134.6 600.5,134.1 602.2,133.0 C604.0,131.9 606.0,130.4 607.5,129.1 C609.0,127.8 609.8,124.1 610.9,125.2 C612.0,126.3 613.0,132.2 614.0,135.7 C615.0,139.2 615.7,143.1 616.7,146.2 C617.7,149.3 618.9,154.5 619.8,154.1 C620.7,153.7 621.1,146.2 621.9,143.6 C622.7,141.0 623.6,138.5 624.5,138.3 C625.4,138.1 626.2,140.6 627.2,142.3 C628.2,144.1 629.5,147.1 630.6,148.8 C631.7,150.6 632.5,153.2 633.7,152.8 C634.9,152.4 636.5,149.0 637.7,146.2 C638.9,143.3 640.0,138.1 641.1,135.7 C642.2,133.3 643.1,131.3 644.3,131.7 C645.5,132.1 646.9,135.9 648.2,138.3 C649.5,140.7 650.8,144.4 652.1,146.2 C653.4,147.9 654.8,148.8 656.1,148.8 C657.4,148.8 658.9,147.7 660.0,146.2 C661.1,144.7 661.8,140.2 662.7,139.6 C663.6,138.9 664.2,140.8 665.3,142.3 C666.4,143.8 667.9,146.8 669.2,148.8 C670.5,150.8 672.1,154.1 673.2,154.1 C674.3,154.1 675.1,149.9 675.8,148.8 C676.4,147.7 676.9,147.7 677.1,147.5" fill="none" stroke="#000" stroke-width="2.3" stroke-linejoin="round" stroke-linecap="round"/>
<path d="M106.5,417.6 L107.4,417.5 L108.9,416.6 L110.5,415.9 L111.5,416.2 L112.6,416.2 L113.9,416.9 L115.2,416.8 L116.4,416.4 L117.5,416.9 L118.5,417.0 L119.5,416.9 L120.6,416.8 L121.7,416.4 L123.4,416.1 L124.8,415.6 L126.3,414.6 L127.5,414.2 L128.5,414.6 L129.5,415.7 L130.4,416.4 L131.3,417.9 L132.2,420.1 L133.3,420.9 L134.7,421.2 L136.6,420.1 L138.5,420.1 L139.7,420.0 L141.0,420.1 L142.5,420.4 L144.1,420.6 L145.4,420.7 L146.7,421.3 L147.9,420.7 L149.1,421.1 L150.4,421.0 L151.6,421.0 L152.7,420.5 L153.7,420.9 L155.4,421.2 L157.1,422.1 L158.4,422.7 L159.1,423.3 L159.6,423.6 L160.7,424.2 L162.0,424.7 L163.3,424.6 L164.5,424.9 L165.7,424.6 L166.9,424.6 L168.5,424.8 L170.1,425.1 L171.7,424.6 L173.2,424.9 L174.4,424.6 L175.6,424.8 L176.8,424.5 L178.4,424.6 L180.0,424.7 L181.6,424.7 L183.2,423.9 L184.4,424.2 L185.6,423.5 L186.8,423.5 L188.4,423.7 L190.0,423.4 L191.6,423.2 L193.2,424.0 L194.4,423.6 L195.6,424.2 L196.8,424.4 L198.4,424.2 L200.0,424.6 L201.6,424.8 L203.2,424.5 L204.4,424.1 L205.6,424.1 L206.8,423.8 L208.4,423.9 L210.0,423.7 L211.2,424.0 L212.5,423.6 L213.7,423.9 L215.1,424.0 L216.5,424.0 L218.0,424.6 L219.5,424.4 L221.0,424.2 L222.3,423.8 L223.0,422.2 L223.5,421.4 L224.0,419.3 L224.5,416.8 L225.0,413.8 L225.6,408.7 L226.4,401.7 L227.1,396.5 L227.6,390.9 L228.1,384.8 L228.7,381.0 L229.8,378.2 L231.3,376.0 L232.7,374.1 L234.1,372.9 L235.8,371.6 L237.1,369.7 L237.9,366.8 L238.7,363.9 L239.3,361.0 L240.0,357.9 L240.7,354.9 L241.5,352.5 L242.5,350.8 L243.7,349.8 L244.8,349.7 L245.8,349.4 L246.9,350.8 L248.0,352.0 L249.4,354.4 L251.1,357.7 L252.5,359.4 L253.4,358.4 L254.3,355.6 L255.0,352.0 L255.7,347.5 L256.3,342.4 L257.0,337.8 L257.7,333.8 L258.6,330.0 L259.5,327.2 L260.6,324.7 L262.1,323.4 L263.4,322.5 L264.7,324.1 L266.3,326.6 L267.7,329.5 L269.0,334.1 L270.6,339.9 L272.0,344.1 L273.7,347.3 L274.8,348.3 L275.8,349.4 L277.6,350.5 L279.2,349.7 L281.0,347.6 L282.5,345.9 L284.0,344.2 L285.6,342.1 L287.1,340.9 L288.8,341.1 L289.7,342.1 L290.7,343.1 L292.4,344.0 L294.0,346.5 L295.7,349.1 L297.3,350.6 L298.9,350.5 L300.8,349.3 L302.3,348.2 L303.7,348.4 L305.3,348.6 L306.5,347.1 L307.6,344.9 L308.6,341.8 L309.5,338.2 L310.2,333.5 L310.9,327.1 L311.5,321.7 L312.1,318.7 L312.8,314.5 L313.5,312.1 L314.5,310.4 L315.8,308.3 L317.1,306.7 L318.8,306.5 L319.9,305.9 L320.9,305.7 L322.7,306.1 L324.1,306.6 L325.6,308.4 L326.9,311.5 L328.3,316.3 L329.8,323.6 L331.2,329.5 L332.4,333.9 L333.8,338.1 L335.2,341.2 L337.0,342.1 L338.1,342.9 L339.2,343.2 L341.1,343.8 L342.9,345.8 L343.9,346.1 L345.0,346.5 L346.7,347.9 L348.3,346.8 L350.0,346.0 L351.6,344.6 L352.6,343.2 L353.6,341.7 L354.8,340.7 L356.0,338.8 L357.1,337.8 L358.2,336.1 L359.3,333.6 L360.4,331.9 L361.6,329.5 L362.8,327.0 L363.8,325.1 L364.8,322.9 L366.5,318.4 L368.2,314.7 L369.7,311.4 L371.3,308.8 L373.1,306.9 L374.7,305.5 L376.3,305.1 L378.2,306.1 L379.8,306.6 L381.2,307.1 L382.7,309.3 L383.9,310.7 L385.1,314.6 L386.3,319.6 L387.4,323.7 L388.4,326.4 L389.5,329.3 L390.5,330.9 L391.8,330.8 L393.4,329.3 L394.8,327.8 L396.2,327.2 L397.8,325.9 L399.1,324.5 L400.3,321.7 L401.7,317.1 L403.0,313.1 L404.6,308.0 L406.4,302.0 L408.0,298.2 L409.4,296.0 L410.9,293.9 L412.2,292.9 L413.7,293.7 L415.4,294.4 L416.9,296.4 L418.3,300.1 L419.8,304.4 L421.1,309.5 L422.5,315.7 L424.0,323.5 L425.4,329.5 L426.7,333.4 L428.1,336.1 L429.4,339.3 L430.9,342.5 L432.7,345.8 L434.3,347.6 L435.9,346.9 L437.7,344.8 L439.2,343.1 L440.5,343.4 L441.9,343.9 L443.2,345.9 L444.6,348.9 L446.1,353.6 L447.5,357.4 L448.8,359.7 L450.3,361.6 L451.7,362.3 L453.2,361.0 L454.8,358.7 L456.3,357.5 L457.7,356.6 L459.2,355.9 L460.6,356.1 L462.0,357.7 L463.6,360.5 L464.9,362.5 L466.1,364.1 L467.5,365.5 L468.8,366.3 L470.4,364.5 L472.3,362.2 L473.8,359.0 L475.0,354.8 L476.1,349.1 L477.1,344.5 L478.1,338.9 L479.3,333.6 L480.4,329.0 L481.7,325.9 L483.2,323.2 L484.6,321.3 L485.9,321.0 L487.4,321.1 L488.6,322.6 L489.7,326.4 L490.8,331.2 L491.9,335.7 L493.1,341.4 L494.5,347.1 L495.8,352.4 L497.1,356.9 L498.7,360.5 L500.1,364.0 L501.6,366.6 L503.4,368.5 L505.0,369.3 L506.6,369.0 L508.4,367.0 L509.9,365.6 L511.3,363.3 L512.9,360.0 L514.2,357.4 L515.5,356.0 L517.0,354.1 L518.2,354.0 L519.4,356.2 L520.6,359.2 L521.8,362.3 L523.0,364.7 L524.5,367.2 L525.9,368.6 L527.5,369.1 L528.5,367.8 L529.5,367.6 L531.3,366.9 L532.3,365.7 L533.4,365.7 L534.6,364.4 L535.9,363.8 L536.9,362.9 L537.9,362.3 L539.6,361.2 L541.3,360.1 L542.8,358.8 L544.4,357.2 L546.2,356.0 L547.8,354.6 L549.4,356.2 L551.2,358.3 L552.7,360.2 L554.1,362.9 L555.7,366.2 L557.0,368.7 L558.3,371.0 L559.7,373.5 L560.9,375.5 L562.2,377.2 L563.6,378.1 L564.9,378.3 L566.3,378.3 L567.9,377.0 L569.2,375.1 L570.3,373.3 L571.5,369.9 L572.5,368.1 L573.5,367.0 L574.7,365.9 L575.7,366.0 L576.7,368.2 L577.9,371.2 L579.0,373.7 L580.3,375.4 L581.8,376.9 L583.3,378.2 L585.0,377.6 L586.0,377.2 L587.0,376.8 L588.9,375.3 L589.9,374.6 L590.9,374.2 L592.2,374.0 L593.4,373.5 L594.4,373.3 L595.5,372.8 L596.6,373.0 L597.7,373.0 L598.9,373.5 L600.1,373.4 L601.1,373.9 L602.1,373.6 L603.8,373.4 L605.6,373.1 L607.0,372.0 L608.1,370.4 L609.2,368.3 L610.3,365.9 L611.7,365.1 L613.5,363.3 L615.2,362.3 L616.2,361.5 L617.3,361.3 L618.5,360.3 L619.7,359.9 L620.8,359.0 L621.8,359.1 L623.5,360.4 L625.2,361.6 L626.7,363.8 L628.3,366.4 L630.1,369.1 L631.7,372.2 L633.3,374.6 L635.1,376.6 L636.6,378.8 L638.0,380.6 L639.5,383.1 L640.6,385.6 L641.3,388.3 L642.0,391.1 L642.5,395.3 L643.1,401.3 L643.9,408.6 L644.5,414.7 L644.9,418.3 L645.4,420.9 L645.9,423.0 L646.6,425.1 L647.5,425.9 L648.4,426.9 L649.3,427.3 L650.3,427.3 L651.3,426.6 L652.5,425.1 L654.0,422.5 L655.2,420.6 L656.3,419.1 L657.5,418.4 L658.5,418.1 L659.6,418.2 L660.9,418.9 L662.0,419.7 L663.0,420.4 L664.0,421.7 L664.9,422.9 L665.7,423.3 L666.6,423.8 L667.4,424.5 L668.4,423.8 L669.7,422.6 L670.8,422.3 L671.7,420.8 L672.8,420.5 L673.7,419.4 L674.8,419.1 L676.1,419.3 L677.0,418.8 L677.0,430.7 L106.5,430.7 Z" fill="#80ffff"/>
<path d="M106.5,420.6 L107.0,420.3 L107.8,419.8 L108.5,419.4 L109.2,419.1 L110.2,418.9 L111.1,418.8 L112.3,419.0 L113.7,419.3 L115.2,419.6 L116.9,419.9 L118.0,420.0 L119.1,420.2 L121.0,420.2 L122.1,419.9 L123.1,419.7 L124.4,419.2 L125.6,418.8 L127.5,418.4 L128.6,418.7 L129.6,419.4 L130.4,420.2 L131.3,421.4 L132.3,422.8 L133.3,423.7 L134.5,423.5 L136.0,422.8 L137.4,422.3 L138.8,422.2 L140.4,422.3 L142.0,422.5 L143.8,423.1 L144.9,423.5 L146.0,423.9 L147.9,424.3 L149.8,423.9 L150.9,423.5 L151.9,423.1 L153.7,422.8 L155.3,423.4 L157.0,424.6 L158.4,425.4 L159.6,425.8 L160.8,426.2 L161.9,426.3 L163.0,426.0 L164.2,425.6 L165.4,425.4 L166.7,425.8 L168.3,426.5 L170.1,427.0 L171.5,427.0 L173.0,427.0 L174.2,427.0 L175.5,426.9 L176.8,426.9 L178.4,426.7 L180.0,426.6 L181.4,426.3 L182.8,426.0 L184.3,425.6 L185.8,425.2 L187.2,425.0 L188.5,424.7 L189.9,424.6 L191.3,424.5 L192.9,424.5 L194.5,424.5 L195.9,424.6 L197.2,424.7 L198.4,425.0 L199.6,425.3 L200.9,425.8 L202.2,426.2 L203.4,426.5 L204.5,426.7 L205.6,426.5 L206.7,426.4 L208.0,426.1 L209.3,425.7 L210.6,425.5 L211.8,425.3 L212.9,425.4 L214.0,425.5 L215.1,425.6 L216.4,425.7 L217.8,425.9 L219.1,426.1 L220.6,426.1 L222.0,426.1 L223.3,425.2 L224.0,423.7 L224.5,421.8 L225.1,418.9 L225.8,415.0 L226.6,411.6 L228.0,408.3 L229.9,404.6 L231.5,401.8 L233.1,400.3 L234.9,399.0 L236.5,396.8 L238.1,391.4 L239.9,384.0 L241.4,378.7 L242.8,376.4 L244.4,375.2 L245.7,374.8 L247.0,375.5 L248.4,377.1 L249.6,378.7 L250.7,381.1 L251.9,384.1 L252.9,385.3 L253.7,383.4 L254.7,379.6 L255.5,375.4 L256.5,369.3 L257.7,361.5 L258.8,355.7 L260.0,352.5 L261.5,350.2 L262.8,349.1 L264.0,349.4 L265.4,350.8 L266.7,353.1 L268.0,357.7 L269.6,364.0 L271.0,368.8 L272.6,371.6 L274.4,373.8 L275.9,375.4 L277.2,376.7 L278.6,377.9 L279.9,378.1 L281.3,376.7 L282.9,374.2 L284.2,372.1 L285.2,370.4 L286.2,368.7 L287.1,367.9 L288.2,368.7 L289.6,370.4 L290.7,372.1 L291.8,374.2 L293.0,376.7 L294.0,378.1 L295.1,377.1 L296.2,375.0 L297.3,373.8 L298.4,374.9 L299.5,377.0 L300.6,378.1 L301.7,377.5 L302.8,375.9 L303.9,373.8 L304.9,370.8 L306.1,366.6 L307.2,362.3 L308.5,356.7 L310.0,349.7 L311.5,344.2 L313.2,340.3 L314.3,338.5 L315.3,336.7 L317.1,334.3 L318.7,333.1 L320.5,332.6 L322.0,332.6 L323.3,333.1 L324.7,334.3 L326.0,336.6 L327.3,342.0 L328.9,349.6 L330.2,355.7 L331.5,360.1 L333.1,364.3 L334.5,367.2 L336.2,368.2 L337.3,368.4 L338.3,368.5 L340.1,368.8 L341.7,369.9 L343.5,371.3 L345.0,372.1 L346.6,372.0 L348.4,371.4 L350.0,370.5 L351.5,369.0 L353.2,366.8 L354.9,364.9 L355.9,364.1 L356.9,363.3 L358.1,362.3 L359.3,361.3 L360.4,360.2 L361.5,359.0 L362.6,357.1 L363.7,355.1 L364.9,352.6 L366.1,350.0 L367.1,347.9 L368.1,345.8 L369.8,342.3 L371.5,338.6 L373.0,335.9 L374.6,334.3 L376.3,333.2 L377.9,332.6 L379.5,332.6 L381.4,333.0 L382.9,334.3 L384.1,337.4 L385.3,341.8 L386.4,345.8 L387.7,350.2 L389.2,355.2 L390.5,358.3 L391.9,358.1 L393.4,356.4 L394.8,355.0 L396.2,354.6 L397.8,354.3 L399.1,353.1 L400.3,349.9 L401.7,345.2 L403.0,340.9 L404.6,336.1 L406.4,330.4 L408.0,326.1 L409.4,323.4 L410.9,321.2 L412.2,320.1 L413.5,320.2 L414.9,321.2 L416.2,322.8 L417.4,325.8 L418.8,330.1 L420.1,334.3 L421.4,339.3 L423.0,345.5 L424.4,350.7 L425.8,355.3 L427.4,360.3 L428.7,363.9 L430.0,365.9 L431.4,367.4 L432.6,368.8 L433.7,371.1 L434.8,373.9 L435.9,375.4 L437.2,374.4 L438.6,372.2 L439.9,370.5 L441.0,369.7 L442.2,369.2 L443.2,369.5 L444.2,371.3 L445.4,374.2 L446.5,377.1 L447.8,381.0 L449.3,385.7 L450.7,388.6 L452.1,388.4 L453.6,386.7 L455.0,385.3 L456.3,384.3 L457.7,383.2 L459.0,382.7 L460.2,383.1 L461.6,384.1 L462.9,385.3 L464.2,387.5 L465.8,390.4 L467.2,391.9 L468.6,391.2 L470.2,389.2 L471.5,386.9 L472.8,383.8 L474.2,379.5 L475.4,375.4 L476.5,370.3 L477.6,364.0 L478.7,359.0 L479.9,355.0 L481.4,351.0 L482.7,348.4 L484.1,347.5 L485.6,347.6 L486.9,348.4 L488.0,350.5 L489.2,353.8 L490.2,357.3 L491.2,362.2 L492.4,368.5 L493.5,373.8 L494.8,378.4 L496.4,383.2 L497.8,386.9 L499.3,389.5 L500.9,391.8 L502.4,393.5 L503.8,395.0 L505.4,396.3 L506.7,396.8 L507.9,396.0 L509.3,394.3 L510.5,392.5 L511.7,389.9 L513.2,386.5 L514.4,384.0 L515.6,382.6 L517.0,381.6 L518.2,381.6 L519.3,383.5 L520.4,386.7 L521.5,389.4 L522.6,391.6 L523.8,393.8 L525.1,395.2 L526.9,395.5 L528.1,395.3 L529.2,395.1 L530.3,394.8 L531.3,394.5 L532.4,393.9 L533.4,393.4 L534.7,392.5 L535.9,391.7 L536.9,391.0 L537.9,390.2 L539.6,388.6 L541.3,386.8 L542.8,385.3 L544.4,383.9 L546.3,382.5 L547.8,382.0 L549.1,383.0 L550.5,384.9 L551.7,386.9 L553.0,389.4 L554.6,392.5 L556.0,395.2 L557.4,397.7 L559.0,400.4 L560.3,402.4 L561.5,403.7 L562.9,404.7 L564.2,405.0 L565.8,404.4 L567.7,403.2 L569.2,401.8 L570.4,399.8 L571.5,397.1 L572.5,395.2 L573.5,394.1 L574.7,393.4 L575.7,393.5 L576.7,395.2 L577.9,397.9 L579.0,400.1 L580.3,401.8 L581.8,403.5 L583.3,404.4 L585.0,404.0 L586.0,403.4 L587.0,402.8 L588.9,401.8 L589.9,401.3 L590.9,400.8 L592.2,400.2 L593.4,399.7 L594.4,399.4 L595.5,399.1 L596.6,399.3 L597.7,399.5 L598.9,399.9 L600.1,400.4 L601.1,400.7 L602.1,401.1 L603.8,401.9 L605.5,402.6 L607.0,402.4 L608.3,400.1 L609.6,396.4 L611.0,393.5 L612.8,391.6 L613.9,390.8 L615.0,389.9 L616.9,388.6 L618.8,387.4 L619.9,386.8 L621.0,386.3 L622.8,385.9 L624.4,386.7 L626.0,388.4 L627.4,390.2 L628.8,392.7 L630.3,395.8 L631.7,398.5 L633.3,400.8 L635.1,403.2 L636.6,405.0 L637.7,406.1 L638.7,407.0 L639.6,408.5 L640.6,411.6 L641.6,415.8 L642.5,419.3 L643.2,422.1 L643.8,425.0 L644.5,427.1 L645.3,428.3 L646.4,429.2 L647.4,429.6 L648.6,429.6 L650.0,429.3 L651.3,428.6 L652.5,427.1 L654.0,424.9 L655.2,423.2 L656.5,422.0 L657.9,420.9 L659.1,420.3 L660.1,420.5 L661.1,421.1 L662.0,421.8 L662.9,422.8 L664.0,424.2 L664.9,425.2 L665.7,425.7 L666.6,426.1 L667.4,426.2 L668.4,425.8 L669.7,424.9 L670.8,424.2 L671.7,423.4 L672.8,422.5 L673.7,421.8 L674.8,421.4 L676.1,421.0 L677.0,420.8 L677.0,431.7 L106.5,431.7 Z" fill="#bebebe"/>
<path d="M221.6,431.0 L222.5,429.6 L223.8,427.0 L224.9,424.5 L225.9,422.0 L227.0,417.9 L228.2,414.7 L229.7,411.9 L231.6,409.3 L233.2,406.6 L234.8,405.3 L236.5,403.9 L238.1,401.8 L239.7,398.5 L241.5,393.7 L243.0,390.3 L244.3,388.3 L245.7,387.3 L247.0,386.9 L248.4,389.3 L250.0,392.6 L251.3,395.4 L252.1,397.1 L252.9,398.8 L253.6,398.5 L254.6,393.3 L255.8,385.6 L256.9,378.8 L257.9,373.7 L259.1,367.6 L260.1,363.8 L261.1,362.1 L262.3,360.8 L263.4,360.6 L264.7,361.3 L266.3,363.0 L267.7,365.8 L269.1,369.8 L270.6,374.3 L272.0,379.0 L273.5,381.2 L275.1,383.4 L276.6,385.5 L278.0,386.5 L279.5,387.9 L280.9,388.2 L282.4,386.3 L284.2,384.0 L285.8,383.1 L287.4,382.9 L289.2,383.9 L290.7,385.6 L292.1,387.0 L293.6,389.0 L295.0,390.6 L296.7,390.0 L297.8,389.8 L298.9,389.3 L300.6,388.4 L302.1,388.1 L303.6,387.1 L304.9,385.3 L306.0,382.1 L307.1,376.8 L308.2,371.8 L309.4,366.6 L310.8,359.3 L312.1,354.1 L313.6,350.7 L315.4,347.6 L317.1,345.6 L318.9,344.7 L319.9,344.4 L321.0,344.3 L322.7,344.2 L324.1,344.8 L325.6,346.6 L326.9,349.4 L328.3,354.2 L329.8,361.2 L331.2,367.0 L332.4,371.6 L333.8,375.6 L335.2,378.5 L337.0,379.4 L338.1,380.1 L339.2,380.0 L341.1,380.4 L342.9,382.1 L343.9,382.6 L345.0,383.3 L346.7,385.0 L348.3,383.8 L350.0,382.2 L351.6,380.6 L352.6,379.2 L353.6,378.1 L354.8,377.4 L356.0,376.2 L357.1,374.9 L358.2,374.1 L359.3,372.3 L360.4,371.1 L361.6,370.2 L362.8,368.5 L363.8,367.1 L364.8,365.7 L366.5,362.0 L368.2,357.4 L369.7,354.2 L371.3,350.9 L373.1,347.7 L374.7,346.0 L376.3,344.9 L378.2,344.2 L379.7,343.9 L381.1,344.4 L382.6,345.7 L383.9,347.4 L385.1,351.2 L386.5,356.7 L387.6,360.8 L388.5,364.0 L389.5,367.3 L390.5,369.5 L391.8,369.3 L393.4,368.6 L394.8,366.8 L396.2,366.6 L397.8,365.7 L399.1,364.0 L400.3,360.1 L401.7,355.5 L403.0,350.4 L404.6,346.0 L406.4,339.8 L408.0,335.5 L409.4,333.7 L410.9,331.6 L412.2,330.7 L413.7,331.4 L415.4,332.3 L416.9,334.3 L418.3,338.1 L419.8,342.9 L421.1,347.6 L422.5,352.9 L424.0,358.8 L425.4,364.0 L426.7,367.8 L428.1,371.7 L429.4,375.6 L431.0,378.3 L432.8,381.2 L434.3,384.0 L435.4,385.5 L436.5,387.0 L437.6,387.2 L438.9,385.9 L440.5,382.9 L441.9,382.1 L443.2,383.5 L444.6,386.3 L445.8,389.1 L447.0,393.5 L448.5,399.3 L449.8,402.5 L451.4,401.8 L452.4,400.9 L453.4,399.9 L455.0,397.7 L456.3,396.1 L457.8,395.0 L459.0,394.0 L460.2,394.9 L461.6,396.2 L462.9,397.7 L464.2,400.3 L465.8,404.1 L467.2,405.9 L468.6,404.5 L470.2,402.2 L471.5,399.1 L472.8,396.1 L474.2,391.6 L475.4,387.6 L476.5,382.5 L477.6,376.2 L478.7,371.1 L479.9,367.7 L481.4,363.7 L482.7,361.2 L484.1,361.0 L485.6,360.4 L486.9,361.4 L488.0,363.2 L489.1,365.7 L490.2,369.3 L491.5,375.4 L493.1,383.0 L494.5,389.1 L495.8,393.9 L497.2,397.6 L498.5,400.5 L499.7,403.2 L501.1,404.8 L502.4,406.1 L503.8,407.0 L505.3,407.2 L506.7,407.5 L507.9,406.3 L509.3,403.8 L510.5,401.8 L511.8,399.4 L513.3,396.2 L514.6,394.4 L515.9,393.2 L517.3,392.2 L518.5,392.6 L519.6,394.6 L520.8,397.4 L521.9,400.0 L522.9,402.2 L524.2,403.9 L525.4,405.8 L527.1,405.9 L528.2,405.6 L529.2,405.5 L531.0,404.8 L532.4,404.7 L533.9,403.9 L535.3,402.8 L536.9,402.6 L537.9,402.1 L538.9,401.8 L540.6,401.1 L542.2,399.3 L543.9,397.4 L545.2,396.4 L546.2,394.6 L547.2,393.8 L548.2,393.7 L549.3,394.6 L550.7,396.9 L552.0,399.1 L553.4,401.3 L555.1,404.2 L556.5,406.6 L557.7,409.1 L559.1,411.6 L560.3,413.5 L561.5,414.9 L562.9,416.9 L564.2,417.6 L565.8,416.5 L567.7,414.8 L569.2,413.1 L570.4,411.3 L571.5,408.9 L572.5,406.7 L573.5,405.1 L574.7,404.3 L575.7,404.6 L576.7,406.4 L577.9,409.4 L579.0,411.4 L580.3,413.2 L581.8,415.4 L583.3,416.6 L585.0,415.9 L586.0,415.4 L587.0,414.3 L588.9,413.1 L589.9,412.9 L590.9,412.2 L592.2,412.0 L593.4,411.3 L594.4,411.2 L595.5,410.9 L596.6,411.0 L597.7,411.2 L598.9,411.7 L600.1,411.8 L601.1,412.0 L602.1,412.6 L603.8,413.1 L605.5,414.3 L607.0,414.1 L608.3,412.3 L609.6,409.1 L611.0,406.8 L612.8,404.8 L613.9,403.9 L615.0,403.1 L616.9,401.7 L618.8,400.4 L619.9,400.2 L621.0,399.6 L622.8,399.4 L624.4,399.7 L626.0,401.7 L627.4,403.7 L628.8,405.8 L630.3,408.8 L631.7,411.6 L633.3,413.9 L635.1,415.9 L636.6,418.3 L637.8,419.8 L638.9,421.2 L639.9,423.4 L640.8,425.8 L641.8,429.0 L642.5,431.0 Z" fill="#808080"/>
<path d="M106.5,420.6 C106.8,420.4 107.7,419.7 108.5,419.4 C109.3,419.1 110.0,418.8 111.1,418.8 C112.2,418.8 113.5,419.4 115.2,419.6 C116.9,419.8 119.0,420.4 121.0,420.2 C123.0,420.0 125.9,418.4 127.5,418.4 C129.1,418.4 129.4,419.3 130.4,420.2 C131.4,421.1 132.1,423.3 133.3,423.7 C134.5,424.1 136.0,422.5 137.4,422.3 C138.8,422.1 140.2,422.2 142.0,422.5 C143.8,422.8 146.0,424.2 147.9,424.3 C149.8,424.4 151.9,422.6 153.7,422.8 C155.4,423.0 157.0,424.8 158.4,425.4 C159.8,426.0 160.7,426.3 161.9,426.3 C163.1,426.3 164.0,425.3 165.4,425.4 C166.8,425.5 167.7,426.8 170.1,427.0 C172.5,427.2 176.9,427.0 180.0,426.6 C183.1,426.2 185.6,425.0 188.5,424.7 C191.4,424.4 194.5,424.4 197.2,424.7 C199.9,425.0 202.1,426.6 204.5,426.7 C206.9,426.8 208.9,425.4 211.8,425.3 C214.7,425.2 219.9,426.7 222.0,426.1 C224.1,425.5 223.7,424.2 224.5,421.8 C225.3,419.4 225.4,414.9 226.6,411.6 C227.8,408.3 229.8,404.3 231.5,401.8 C233.2,399.3 234.8,400.7 236.5,396.8 C238.2,392.9 239.9,382.4 241.4,378.7 C242.9,375.0 244.3,374.8 245.7,374.8 C247.1,374.8 248.4,376.9 249.6,378.7 C250.8,380.4 251.9,385.9 252.9,385.3 C253.9,384.8 254.5,380.3 255.5,375.4 C256.5,370.5 257.6,360.1 258.8,355.7 C260.0,351.3 261.5,349.5 262.8,349.1 C264.1,348.7 265.3,349.8 266.7,353.1 C268.1,356.4 269.5,365.1 271.0,368.8 C272.5,372.5 274.4,373.8 275.9,375.4 C277.4,376.9 278.5,378.7 279.9,378.1 C281.3,377.6 283.0,373.8 284.2,372.1 C285.4,370.4 286.0,367.9 287.1,367.9 C288.2,367.9 289.6,370.4 290.7,372.1 C291.8,373.8 292.9,377.8 294.0,378.1 C295.1,378.4 296.2,373.8 297.3,373.8 C298.4,373.8 299.5,378.1 300.6,378.1 C301.7,378.1 302.8,376.4 303.9,373.8 C305.0,371.2 305.9,367.2 307.2,362.3 C308.5,357.4 309.9,348.9 311.5,344.2 C313.1,339.5 315.4,336.2 317.1,334.3 C318.9,332.4 320.5,332.2 322.0,332.6 C323.5,333.0 324.6,332.8 326.0,336.6 C327.4,340.5 328.8,350.6 330.2,355.7 C331.6,360.8 332.9,365.0 334.5,367.2 C336.1,369.4 338.4,368.0 340.1,368.8 C341.9,369.6 343.4,371.8 345.0,372.1 C346.6,372.4 348.4,371.7 350.0,370.5 C351.6,369.3 353.0,366.8 354.9,364.9 C356.8,363.0 359.3,362.2 361.5,359.0 C363.7,355.8 366.2,349.7 368.1,345.8 C370.0,341.9 371.4,338.1 373.0,335.9 C374.6,333.7 376.2,332.9 377.9,332.6 C379.5,332.3 381.5,332.1 382.9,334.3 C384.3,336.5 385.1,341.8 386.4,345.8 C387.7,349.8 389.1,356.8 390.5,358.3 C391.9,359.8 393.4,355.9 394.8,355.0 C396.2,354.1 397.7,355.5 399.1,353.1 C400.5,350.8 401.5,345.4 403.0,340.9 C404.5,336.4 406.5,329.6 408.0,326.1 C409.5,322.6 410.8,320.7 412.2,320.1 C413.6,319.6 414.9,320.4 416.2,322.8 C417.5,325.2 418.7,329.7 420.1,334.3 C421.5,338.9 423.0,345.8 424.4,350.7 C425.8,355.6 427.3,360.9 428.7,363.9 C430.1,366.9 431.4,366.9 432.6,368.8 C433.8,370.7 434.7,375.1 435.9,375.4 C437.1,375.7 438.7,371.5 439.9,370.5 C441.1,369.5 442.1,368.4 443.2,369.5 C444.3,370.6 445.2,373.9 446.5,377.1 C447.8,380.3 449.3,387.2 450.7,388.6 C452.1,390.0 453.6,386.3 455.0,385.3 C456.4,384.3 457.7,382.7 459.0,382.7 C460.3,382.7 461.5,383.8 462.9,385.3 C464.3,386.8 465.8,391.6 467.2,391.9 C468.6,392.2 470.1,389.6 471.5,386.9 C472.9,384.1 474.2,380.0 475.4,375.4 C476.6,370.8 477.5,363.5 478.7,359.0 C479.9,354.5 481.3,350.2 482.7,348.4 C484.1,346.6 485.6,346.9 486.9,348.4 C488.1,349.9 489.1,353.1 490.2,357.3 C491.3,361.5 492.2,368.9 493.5,373.8 C494.8,378.7 496.3,383.6 497.8,386.9 C499.3,390.2 500.9,391.9 502.4,393.5 C503.9,395.1 505.3,397.0 506.7,396.8 C508.1,396.6 509.2,394.6 510.5,392.5 C511.8,390.4 513.1,385.8 514.4,384.0 C515.7,382.2 517.0,380.7 518.2,381.6 C519.4,382.5 520.4,387.1 521.5,389.4 C522.6,391.7 523.5,394.3 525.1,395.2 C526.7,396.1 529.2,395.3 531.3,394.5 C533.4,393.7 536.0,391.7 537.9,390.2 C539.8,388.7 541.1,386.7 542.8,385.3 C544.4,383.9 546.3,381.7 547.8,382.0 C549.3,382.3 550.3,384.7 551.7,386.9 C553.1,389.1 554.6,392.6 556.0,395.2 C557.4,397.8 558.9,400.8 560.3,402.4 C561.7,404.0 562.7,405.1 564.2,405.0 C565.7,404.9 567.8,403.4 569.2,401.8 C570.6,400.2 571.4,396.6 572.5,395.2 C573.6,393.8 574.6,392.7 575.7,393.5 C576.8,394.3 577.7,398.3 579.0,400.1 C580.3,401.9 581.6,404.1 583.3,404.4 C584.9,404.7 586.9,402.7 588.9,401.8 C590.9,400.9 593.3,399.2 595.5,399.1 C597.7,399.0 600.2,400.6 602.1,401.1 C604.0,401.7 605.5,403.7 607.0,402.4 C608.5,401.1 609.4,395.8 611.0,393.5 C612.6,391.2 614.9,389.9 616.9,388.6 C618.9,387.3 621.0,385.6 622.8,385.9 C624.5,386.2 625.9,388.1 627.4,390.2 C628.9,392.3 630.2,396.0 631.7,398.5 C633.2,401.0 635.3,403.3 636.6,405.0 C637.9,406.7 638.6,406.1 639.6,408.5 C640.6,410.9 641.7,416.2 642.5,419.3 C643.3,422.4 643.7,425.4 644.5,427.1 C645.3,428.8 646.3,429.4 647.4,429.6 C648.5,429.9 650.0,429.7 651.3,428.6 C652.6,427.5 653.9,424.6 655.2,423.2 C656.5,421.8 658.0,420.5 659.1,420.3 C660.2,420.1 661.0,421.0 662.0,421.8 C663.0,422.6 664.0,424.5 664.9,425.2 C665.8,425.9 666.4,426.4 667.4,426.2 C668.4,426.0 669.8,424.9 670.8,424.2 C671.8,423.5 672.7,422.4 673.7,421.8 C674.7,421.2 676.5,421.0 677.0,420.8" fill="none" stroke="#000" stroke-width="2.0" stroke-linejoin="round" stroke-linecap="round"/>
<path d="M677.4,424.5 V431.2" stroke="#222" stroke-width="1.3"/>
<text class="t" x="1.5" y="42.6" font-size="28.5">(a)</text>
<text class="t" x="41.8" y="42.6" font-size="22" textLength="55.6" lengthAdjust="spacingAndGlyphs"><tspan class="i">Z,</tspan> µ<tspan class="i">m</tspan></text>
<text class="t" x="2" y="279.2" font-size="28.5">(b)</text>
<text class="t" x="43" y="279.2" font-size="22" textLength="54.5" lengthAdjust="spacingAndGlyphs"><tspan class="i">Z,</tspan> µ<tspan class="i">m</tspan></text>
<text class="s" x="98" y="84.6" font-size="22.5" text-anchor="end">1.0</text>
<text class="s" x="98" y="139.8" font-size="22.5" text-anchor="end">0.5</text>
<text class="s" x="95.5" y="195.5" font-size="22.5" text-anchor="end">0</text>
<text class="s" x="97" y="310" font-size="22.5" text-anchor="end">1.0</text>
<text class="s" x="97" y="369.8" font-size="22.5" text-anchor="end">0.5</text>
<text class="s" x="96.3" y="428.2" font-size="22.5" text-anchor="end">0</text>
<text class="s" x="104.7" y="209.2" font-size="22.5" text-anchor="middle">0</text>
<text class="s" x="104.7" y="455.8" font-size="22.5" text-anchor="middle">0</text>
<text class="s" x="220.3" y="209.2" font-size="22.5" text-anchor="middle">20</text>
<text class="s" x="220.3" y="455.8" font-size="22.5" text-anchor="middle">20</text>
<text class="s" x="330" y="209.2" font-size="22.5" text-anchor="middle">40</text>
<text class="s" x="330" y="455.8" font-size="22.5" text-anchor="middle">40</text>
<text class="s" x="440" y="209.2" font-size="22.5" text-anchor="middle">60</text>
<text class="s" x="440" y="455.8" font-size="22.5" text-anchor="middle">60</text>
<text class="s" x="549.6" y="209.2" font-size="22.5" text-anchor="middle">80</text>
<text class="s" x="549.6" y="455.8" font-size="22.5" text-anchor="middle">80</text>
<text class="t" x="617" y="209.2" font-size="22" textLength="58" lengthAdjust="spacingAndGlyphs"><tspan class="i">X,</tspan> µ<tspan class="i">m</tspan></text>
<text class="t" x="616" y="455.6" font-size="22" textLength="58" lengthAdjust="spacingAndGlyphs"><tspan class="i">X,</tspan> µ<tspan class="i">m</tspan></text>
<text class="s" x="120.3" y="40.1" font-size="20" textLength="32" lengthAdjust="spacingAndGlyphs">A-A</text>
<rect x="117.2" y="46.6" width="38.1" height="11.9" fill="#80ffff" stroke="#6c6c6c" stroke-width="1"/>
<text class="s" x="159.6" y="58.6" font-size="15.3" textLength="12" lengthAdjust="spacingAndGlyphs">-1</text>
<rect x="117.2" y="63.5" width="38.1" height="11.9" fill="#bdbdbd" stroke="#6c6c6c" stroke-width="1"/>
<text class="s" x="159.6" y="75.5" font-size="15.3" textLength="12" lengthAdjust="spacingAndGlyphs">-2</text>
<rect x="117.2" y="81" width="38.1" height="11.5" fill="#8a8a8a" stroke="#6c6c6c" stroke-width="1"/>
<text class="s" x="159.6" y="92.6" font-size="15.3" textLength="12" lengthAdjust="spacingAndGlyphs">-3</text>
<text class="s" x="121.8" y="284" font-size="19.6" textLength="30" lengthAdjust="spacingAndGlyphs">B-B</text>
<rect x="121.2" y="298.8" width="38.8" height="11.6" fill="#80ffff" stroke="#6c6c6c" stroke-width="1"/>
<text class="s" x="163.6" y="309.8" font-size="15.3" textLength="12" lengthAdjust="spacingAndGlyphs">-1</text>
<rect x="121.2" y="315.8" width="38.8" height="11.6" fill="#bdbdbd" stroke="#6c6c6c" stroke-width="1"/>
<text class="s" x="163.6" y="326.8" font-size="15.3" textLength="12" lengthAdjust="spacingAndGlyphs">-2</text>
<rect x="121.2" y="332.7" width="38.8" height="11.6" fill="#8a8a8a" stroke="#6c6c6c" stroke-width="1"/>
<text class="s" x="163.6" y="344.3" font-size="15.3" textLength="12" lengthAdjust="spacingAndGlyphs">-3</text>
<path d="M213.5,4 V172.5" stroke="#333" stroke-width="0.85" stroke-dasharray="2.6,1.8"/>
<circle cx="213.5" cy="20.5" r="2.6" fill="#000"/>
<circle cx="213.5" cy="60.4" r="2.6" fill="#000"/>
<circle cx="213.5" cy="69.6" r="2.6" fill="#000"/>
<circle cx="213.5" cy="85.4" r="2.6" fill="#000"/>
<circle cx="213.5" cy="103" r="2.6" fill="#000"/>
<text class="s" x="202.5" y="17.9" font-size="15" text-anchor="middle">A</text>
<text class="s" x="202.5" y="57.3" font-size="15" text-anchor="middle">B</text>
<text class="s" x="202.5" y="74.9" font-size="15" text-anchor="middle">C</text>
<text class="s" x="202.5" y="89.9" font-size="15" text-anchor="middle">D</text>
<text class="s" x="221.5" y="119.5" font-size="15" text-anchor="middle" style="fill:#f6f6f6">E</text>
<path d="M287.1,285 V455.5" stroke="#111" stroke-width="1.1" stroke-dasharray="2.3,1.7"/>
<circle cx="287.1" cy="301.4" r="2.6" fill="#000"/>
<circle cx="287.1" cy="340.2" r="2.6" fill="#000"/>
<circle cx="287.1" cy="352.4" r="2.6" fill="#000"/>
<circle cx="287.1" cy="367.9" r="2.6" fill="#000"/>
<circle cx="287.1" cy="381.3" r="2.6" fill="#000"/>
<text class="s" x="276.4" y="298" font-size="14.8" text-anchor="middle">A</text>
<text class="s" x="276.7" y="337.6" font-size="14.8" text-anchor="middle">B</text>
<text class="s" x="276.9" y="357.3" font-size="14.8" text-anchor="middle">C</text>
<text class="s" x="296.2" y="366.2" font-size="14.8" text-anchor="middle">D</text>
<text class="s" x="294" y="403.4" font-size="15" text-anchor="middle" style="fill:#f6f6f6">E</text>
<text class="s" x="316" y="30.2" font-size="17.4">nucleus</text>
<path d="M348.3,35.5 L386.7,57.3" stroke="#000" stroke-width="1.3" marker-end="url(#ak)"/>
<text class="s" x="499.7" y="14.2" font-size="17.4">photocell</text>
<rect x="512.9" y="23" width="45.60000000000002" height="44" fill="#fff" stroke="#000" stroke-width="1.5"/>
<path d="M536.1,23 V67 M512.9,44.9 H558.5" stroke="#000" stroke-width="1.5"/>
<ellipse cx="536" cy="33.6" rx="6.2" ry="7" fill="url(#rb)"/>
<ellipse cx="536" cy="55.7" rx="6.2" ry="7" fill="url(#rb)"/>
<path d="M612.4,73.4 L541.2,35.6" stroke="#cc1166" stroke-width="1.2" marker-end="url(#ar)"/>
<path d="M612.4,73.4 L542.7,58.4" stroke="#dd4488" stroke-width="1.1" stroke-dasharray="4,2.4" marker-end="url(#ar)"/>
<path d="M644.6,39.2 L612.4,73.4" stroke="#cc1166" stroke-width="1.2" marker-end="url(#ar)"/>
<rect x="-13.6" y="-4" width="27.2" height="8" fill="#5c5c5c" stroke="#333" stroke-width="1" transform="translate(655.5,27.9) rotate(-44.2)"/>
<text class="s" x="644.9" y="57.7" font-size="17.2" textLength="37" lengthAdjust="spacingAndGlyphs">laser</text>
<path d="M593,73.7 H627.6 V82.4 H616.9 L611,122 L610.4,126.5 L609.9,122 L603.8,82.4 H593 Z" fill="#000"/>
<path d="M584.5,76.9 H558.8" stroke="#000" stroke-width="1.4" marker-end="url(#ak)"/>
<text class="t i" x="627.6" y="117.5" font-size="23.5">F</text>
<text class="t i" x="642" y="122.4" font-size="12.5">L</text>
<path d="M611.5,124.1 H629" stroke="#000" stroke-width="1.8" stroke-dasharray="2.2,1.7"/>
<path d="M637,124.1 l-8.4,-3 l1.4,3 l-1.4,3 Z" fill="#000"/>
<text class="s" x="164.9" y="249" font-size="17.4">photocell</text>
<rect x="244.2" y="222.4" width="46.400000000000034" height="43.599999999999994" fill="#fff" stroke="#000" stroke-width="1.5"/>
<path d="M267.6,222.4 V266 M244.2,243.9 H290.6" stroke="#000" stroke-width="1.5"/>
<ellipse cx="267.4" cy="233.4" rx="6.2" ry="7" fill="url(#rb)"/>
<ellipse cx="267.4" cy="254.8" rx="6.2" ry="7" fill="url(#rb)"/>
<path d="M342.7,282.3 L271.2,236.5" stroke="#cc1166" stroke-width="1.2" marker-end="url(#ar)"/>
<path d="M342.7,282.3 L272.6,256.9" stroke="#dd4488" stroke-width="1.1" stroke-dasharray="4,2.4" marker-end="url(#ar)"/>
<path d="M376.6,248.7 L342.4,282.3" stroke="#cc1166" stroke-width="1.2" marker-end="url(#ar)"/>
<rect x="-13.7" y="-4.3" width="27.4" height="8.6" fill="#5c5c5c" stroke="#333" stroke-width="1" transform="translate(386.5,237.7) rotate(-43.8)"/>
<text class="s" x="376" y="267" font-size="17.2" textLength="37.6" lengthAdjust="spacingAndGlyphs">laser</text>
<text class="s" x="579.8" y="270" font-size="17.2" textLength="73.6" lengthAdjust="spacingAndGlyphs">cantilever</text>
<path d="M600.4,274.8 H635 V283.2 H625.9 L620.6,310 L618.3,326 L616.6,310 L611.6,283.2 H600.4 Z" fill="#000"/>
<path d="M324.3,282.3 H360 V291.8 H348.5 L343.4,334.3 L332.5,291.8 H324.3 Z" fill="#fff" fill-opacity="0.0" stroke="#808080" stroke-width="0.95" stroke-dasharray="2.4,1.9"/>
<path d="M422.2,253.7 H457.9 V263.3 H447.5 L440.6,306.3 L432.7,263.3 H422.2 Z" fill="#fff" fill-opacity="0.0" stroke="#808080" stroke-width="0.95" stroke-dasharray="2.4,1.9"/>
<path d="M508.4,270 H542.9 V279.4 H533.2 L525.6,321.1 L519.5,279.4 H508.4 Z" fill="#fff" fill-opacity="0.0" stroke="#808080" stroke-width="0.95" stroke-dasharray="2.4,1.9"/>
<path d="M350.3,332.4 V346.7" stroke="#000" stroke-width="1.5" stroke-dasharray="2,1.5"/>
<path d="M350.3,326.4 l3.7,8.6 l-3.7,-1.6 l-3.7,1.6 Z M350.3,352.7 l3.7,-8.6 l-3.7,1.6 l-3.7,-1.6 Z" fill="#000"/>
<path d="M440.2,315.4 V328.6" stroke="#000" stroke-width="1.5" stroke-dasharray="2,1.5"/>
<path d="M440.2,309.4 l3.7,8.6 l-3.7,-1.6 l-3.7,1.6 Z M440.2,334.6 l3.7,-8.6 l-3.7,1.6 l-3.7,-1.6 Z" fill="#000"/>
<path d="M525.4,332 V345.6" stroke="#000" stroke-width="1.5" stroke-dasharray="2,1.5"/>
<path d="M525.4,326 l3.7,8.6 l-3.7,-1.6 l-3.7,1.6 Z M525.4,351.6 l3.7,-8.6 l-3.7,1.6 l-3.7,-1.6 Z" fill="#000"/>
<path d="M618.2,331.5 V356.8 M614.4,337.8 L618.2,331 L622,337.8 M614.4,350.4 L618.2,357.2 L622,350.4" fill="none" stroke="#000" stroke-width="1.3" stroke-linejoin="miter"/>
<path d="M434.5,249 C432,203 350,200 343.3,251" fill="none" stroke="#222" stroke-width="1.1" stroke-dasharray="2.4,2.3" marker-end="url(#as)"/>
<path d="M521.5,257.5 C519,198 448,198 443.3,247.5" fill="none" stroke="#222" stroke-width="1.1" stroke-dasharray="2.4,2.3" marker-end="url(#as)"/>
<path d="M616.6,250.2 C614,208 535,206 528.9,264" fill="none" stroke="#222" stroke-width="1.1" stroke-dasharray="2.4,2.3" marker-end="url(#as)"/>
</svg></body></html>
